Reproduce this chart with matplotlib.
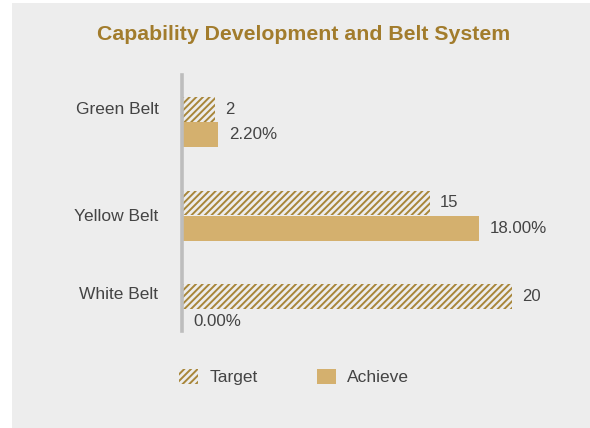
import matplotlib
matplotlib.use("Agg")
import matplotlib.pyplot as plt
from matplotlib.patches import Rectangle, Patch

plt.rcParams["font.family"] = ["Liberation Sans", "DejaVu Sans"]
plt.rcParams["hatch.linewidth"] = 1.4

categories = ["Green Belt", "Yellow Belt", "White Belt"]
target = [2, 15, 20]
achieve = [2.20, 18.00, 0.00]
series_names = ["Target", "Achieve"]

gold_dark = "#A8863A"
gold_fill = "#D4B06E"
title_color = "#A27C2C"
text_color = "#444444"
panel_bg = "#EDEDED"
hatch_style = "/////"

W, H = 590, 428
fig = plt.figure(figsize=(W / 100, H / 100), dpi=100, facecolor="white")

# light grey card behind the chart
fig.patches.append(Rectangle((12 / W, 0), (W - 12) / W, (H - 3) / H,
                             transform=fig.transFigure, facecolor=panel_bg,
                             edgecolor="none", zorder=-5))

def px_box(x0, y0, x1, y1):
    return [x0 / W, 1 - y1 / H, (x1 - x0) / W, (y1 - y0) / H]

ax = fig.add_axes(px_box(182, 75, 578, 331))
ax.set_facecolor("none")
ax.set_zorder(2)

bar_h = 0.265
off = 0.135
idx = list(range(len(categories)))
ax.barh([i - off for i in idx], target, height=bar_h, facecolor="none",
        edgecolor=gold_dark, hatch=hatch_style, linewidth=0, zorder=2)
ax.barh([i + off for i in idx], achieve, height=bar_h, color=gold_fill,
        linewidth=0, zorder=2)

for i, v in enumerate(target):
    ax.annotate(f"{v}", (v, i - off), xytext=(7.5, 0), textcoords="offset points",
                va="center", ha="left", fontsize=12, color=text_color)
for i, v in enumerate(achieve):
    ax.annotate(f"{v:.2f}%", (v, i + off), xytext=(8, 0), textcoords="offset points",
                va="center", ha="left", fontsize=12.2, color=text_color)

ax.set_xlim(0, 24)
ax.set_ylim(2.235, -0.503)
# category labels sit slightly above each group's centre
label_shift = [-0.15, -0.01, -0.17]
ax.set_yticks([i + s for i, s in zip(idx, label_shift)], categories)
ax.tick_params(axis="y", length=0, pad=17, labelsize=12.5, labelcolor=text_color)
ax.set_xticks([])
for s in ["top", "right", "bottom"]:
    ax.spines[s].set_visible(False)
ax.spines["left"].set_color("#BDBDBD")
ax.spines["left"].set_linewidth(2.6)
ax.spines["left"].set_zorder(3)

fig.text(303.5 / W, 1 - 34 / H, "Capability Development and Belt System",
         ha="center", va="center", fontsize=15.3, fontweight="bold", color=title_color)

handles = [Patch(facecolor="none", edgecolor=gold_dark, hatch=hatch_style, linewidth=0),
           Patch(facecolor=gold_fill, linewidth=0)]
fig.legend(handles, series_names, loc="center left",
           bbox_to_anchor=(179 / W, 1 - 377 / H), ncol=2, frameon=False,
           fontsize=12.5, handlelength=1.1, handleheight=1.0, handletextpad=0.65,
           columnspacing=3.4, borderpad=0, borderaxespad=0, labelcolor=text_color)

fig.savefig("out.png", dpi=100, facecolor="white")
